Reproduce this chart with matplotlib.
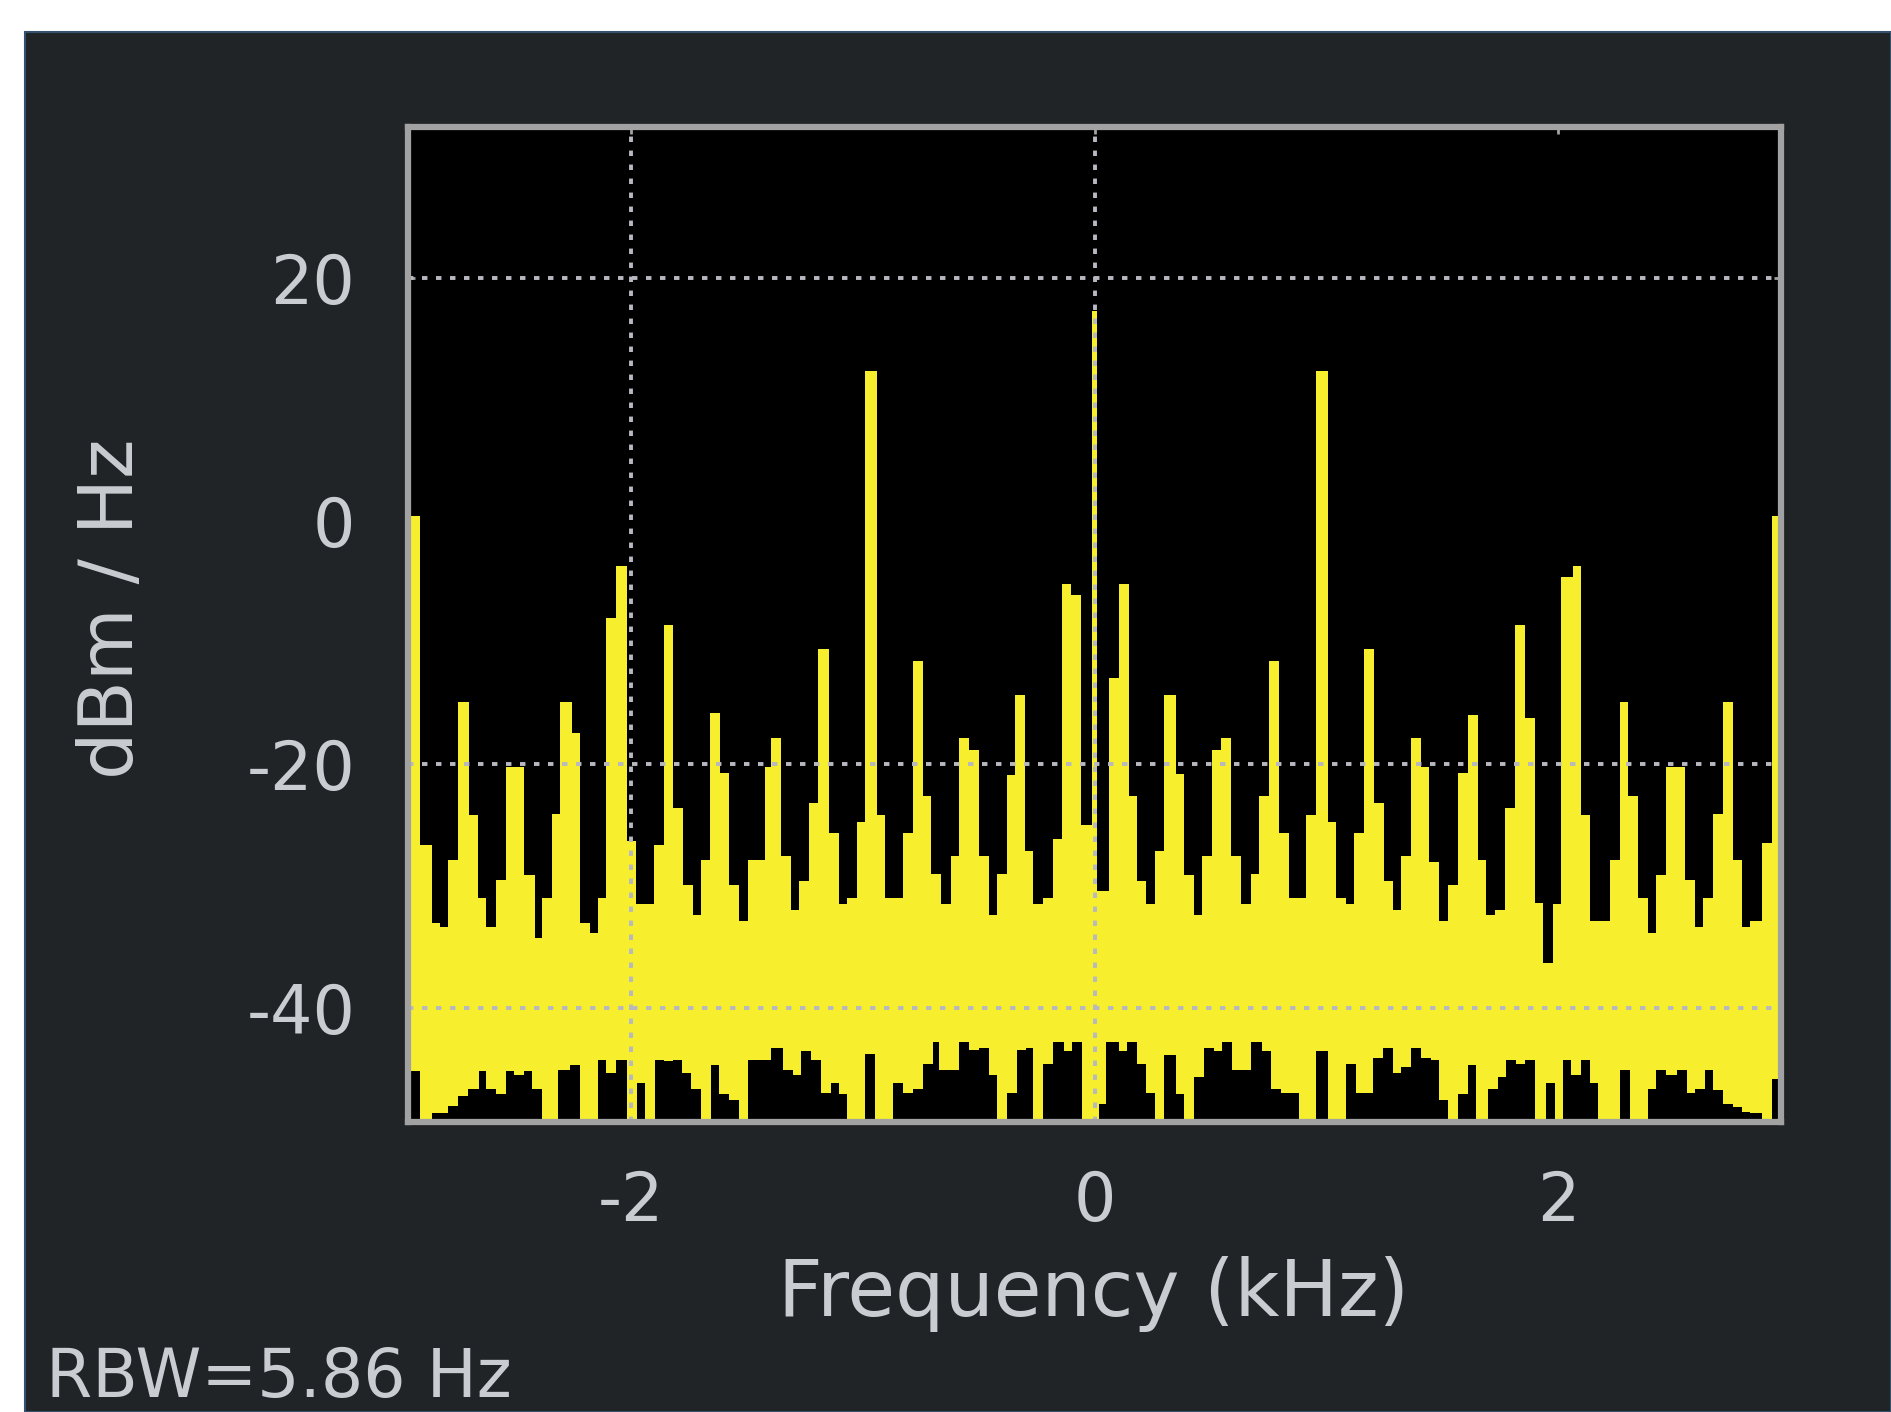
import matplotlib.pyplot as plt
from matplotlib.patches import Rectangle

# spectrum trace, as steps:
# each level holds from its start frequency to the next start (kHz, dBm/Hz)
trace_start_khz = [
    -2.960, -2.908, -2.858, -2.823, -2.787, -2.745, -2.695, -2.660, -2.624, -2.582,
    -2.539, -2.461, -2.411, -2.383, -2.340, -2.305, -2.255, -2.220, -2.177, -2.142,
    -2.106, -2.064, -2.014, -1.979, -1.901, -1.858, -1.818, -1.773, -1.730, -1.695,
    -1.660, -1.614, -1.574, -1.532, -1.496, -1.421, -1.393, -1.350, -1.308, -1.272,
    -1.230, -1.194, -1.145, -1.102, -1.067, -1.024, -0.989, -0.939, -0.904, -0.826,
    -0.783, -0.740, -0.705, -0.662, -0.620, -0.584, -0.542, -0.499, -0.457, -0.421,
    -0.379, -0.343, -0.301, -0.265, -0.223, -0.180, -0.138, -0.102, -0.060, -0.012,
    0.012, 0.062, 0.105, 0.148, 0.184, 0.220, 0.263, 0.299, 0.350, 0.386,
    0.428, 0.465, 0.508, 0.544, 0.587, 0.630, 0.674, 0.710, 0.753, 0.796,
    0.839, 0.911, 0.955, 1.005, 1.041, 1.084, 1.120, 1.163, 1.206, 1.250,
    1.285, 1.322, 1.365, 1.408, 1.444, 1.487, 1.523, 1.566, 1.610, 1.653,
    1.688, 1.725, 1.768, 1.811, 1.855, 1.898, 1.934, 1.977, 2.013, 2.063,
    2.099, 2.135, 2.222, 2.265, 2.301, 2.344, 2.387, 2.423, 2.466, 2.546,
    2.589, 2.625, 2.668, 2.711, 2.754, 2.790, 2.826, 2.877, 2.920,
]
trace_db = [
    0.4, -26.6, -33.0, -33.4, -27.9, -14.9, -24.2, -31.0, -33.4, -29.5,
    -20.2, -29.1, -34.3, -31.0, -24.1, -14.9, -17.4, -33.0, -33.9, -31.0,
    -8.0, -3.7, -26.3, -31.5, -26.6, -8.5, -23.6, -29.9, -32.4, -27.9,
    -15.8, -20.7, -29.9, -32.9, -27.9, -20.2, -17.8, -27.5, -32.0, -29.6,
    -23.2, -10.5, -25.6, -31.5, -31.0, -24.7, 12.3, -24.2, -31.0, -25.6,
    -11.5, -22.6, -29.0, -31.5, -27.5, -17.8, -18.8, -27.5, -32.4, -29.0,
    -20.9, -14.3, -27.1, -31.5, -31.0, -26.1, -5.2, -6.1, -25.0, 17.3,
    -30.4, -12.9, -5.2, -22.6, -29.6, -31.5, -27.1, -14.3, -20.8, -29.1,
    -32.4, -27.5, -18.8, -17.8, -27.5, -31.5, -29.0, -22.6, -11.5, -25.6,
    -31.0, -24.2, 12.3, -24.7, -31.0, -31.5, -25.6, -10.5, -23.2, -29.6,
    -32.0, -27.5, -17.8, -20.2, -28.0, -32.9, -29.9, -20.7, -15.9, -27.9,
    -32.4, -32.0, -23.6, -8.5, -16.2, -31.4, -36.3, -31.5, -4.6, -3.7,
    -24.2, -32.9, -27.9, -14.9, -22.6, -31.0, -33.9, -29.1, -20.2, -29.5,
    -33.4, -31.0, -24.1, -14.9, -27.9, -33.4, -32.9, -26.5, 0.4,
]

# lower edge of the noise band (the dark gaps near the bottom); -50 = trace reaches floor
floor_start_khz = [
    -2.960, -2.908, -2.858, -2.787, -2.745, -2.702, -2.652, -2.624, -2.582, -2.539,
    -2.504, -2.461, -2.426, -2.383, -2.312, -2.262, -2.220, -2.142, -2.106, -2.064,
    -2.014, -1.972, -1.936, -1.894, -1.858, -1.816, -1.780, -1.738, -1.695, -1.652,
    -1.617, -1.574, -1.532, -1.496, -1.393, -1.343, -1.301, -1.265, -1.223, -1.180,
    -1.138, -1.102, -1.067, -0.989, -0.946, -0.868, -0.826, -0.783, -0.740, -0.698,
    -0.670, -0.584, -0.542, -0.499, -0.457, -0.421, -0.379, -0.336, -0.294, -0.265,
    -0.223, -0.180, -0.130, -0.095, -0.052, 0.019, 0.048, 0.105, 0.141, 0.184,
    0.220, 0.263, 0.299, 0.350, 0.386, 0.428, 0.472, 0.515, 0.551, 0.594,
    0.674, 0.724, 0.760, 0.803, 0.882, 0.955, 1.005, 1.084, 1.127, 1.199,
    1.242, 1.285, 1.322, 1.365, 1.408, 1.451, 1.487, 1.523, 1.566, 1.610,
    1.646, 1.696, 1.739, 1.775, 1.818, 1.855, 1.898, 1.948, 1.984, 2.020,
    2.056, 2.099, 2.135, 2.171, 2.265, 2.308, 2.387, 2.423, 2.466, 2.510,
    2.553, 2.589, 2.632, 2.668, 2.711, 2.754, 2.790, 2.826, 2.877, 2.920,
]
floor_db = [
    -45.2, -50.0, -48.7, -48.1, -47.3, -46.7, -45.2, -46.7, -47.1, -45.2,
    -45.5, -45.2, -46.7, -50.0, -45.1, -44.7, -50.0, -44.3, -45.4, -44.3,
    -50.0, -46.2, -50.0, -44.3, -44.4, -44.3, -45.4, -46.7, -50.0, -44.7,
    -47.1, -47.6, -50.0, -44.3, -43.3, -45.1, -45.5, -43.6, -44.3, -47.0,
    -46.2, -47.1, -50.0, -43.8, -50.0, -46.2, -47.0, -46.7, -44.6, -42.8,
    -45.1, -42.8, -43.5, -43.3, -45.5, -50.0, -47.0, -43.5, -43.3, -50.0,
    -44.6, -42.8, -43.6, -42.8, -50.0, -47.9, -42.8, -43.6, -42.8, -44.6,
    -47.0, -50.0, -43.9, -47.1, -50.0, -45.7, -43.3, -43.6, -42.8, -45.1,
    -42.8, -43.6, -46.7, -47.0, -50.0, -43.6, -50.0, -44.6, -47.0, -44.1,
    -43.3, -45.4, -44.9, -43.3, -44.1, -44.3, -47.6, -50.0, -47.1, -44.7,
    -50.0, -46.7, -45.7, -44.3, -44.6, -44.3, -50.0, -46.2, -50.0, -44.3,
    -45.5, -44.3, -46.2, -50.0, -45.1, -50.0, -46.7, -45.1, -45.5, -45.1,
    -47.0, -46.7, -45.1, -46.8, -47.9, -48.2, -48.6, -48.7, -50.0, -45.9,
]
span_end_khz = 2.96

x_ticks = [-2, 0, 2]
y_ticks = [-40, -20, 0, 20]
grid_y = [20, -20, -40]   # only these rules show on the screen
grid_x = [-2, 0]

assert len(trace_start_khz) == len(trace_db)
assert len(floor_start_khz) == len(floor_db)

W, H = 1891, 1412
yellow = '#f7ef2e'
label_col = '#c9cdd1'
frame_col = '#a2a2a2'

fig = plt.figure(figsize=(W / 100, H / 100), dpi=100, facecolor='white')
# dark window panel, small white margin on top / left
fig.patches.append(Rectangle((25 / W, 0), 1 - 25 / W, 1 - 32 / H, transform=fig.transFigure,
                             facecolor='#202427', edgecolor='#34526f', lw=1.5, zorder=-5))

ax = fig.add_axes([408 / W, 1 - 1122 / H, (1781 - 408) / W, (1122 - 127) / H])
ax.set_zorder(2)
ax.set_facecolor('black')

bottom = -50
ax.fill_between(trace_start_khz + [span_end_khz], bottom, trace_db + [trace_db[-1]],
                step='post', color=yellow, lw=0, zorder=2)
ax.fill_between(floor_start_khz + [span_end_khz], bottom, floor_db + [floor_db[-1]],
                step='post', color='black', lw=0, zorder=3)

dots = (0, (1.4, 2.2))
for g in grid_y:
    ax.axhline(g, color='#b8b8c0', ls=dots, lw=2.8, zorder=5)
for g in grid_x:
    ax.axvline(g, color='#b8b8c0', ls=dots, lw=2.8, zorder=5)

ax.set_xlim(-span_end_khz, span_end_khz)
ax.set_ylim(-49.4, 32.4)
ax.set_xticks(x_ticks)
ax.set_yticks(y_ticks)
ax.set_xticklabels([str(t) for t in x_ticks])
ax.set_yticklabels([str(t) for t in y_ticks])
ax.tick_params(direction='in', length=5, width=2, color=frame_col, labelcolor=label_col,
               labelsize=48, top=True, right=True)
ax.tick_params(axis='x', pad=34)
ax.tick_params(axis='y', pad=38)
for s in ax.spines.values():
    s.set_color(frame_col)
    s.set_linewidth(4.5)
    s.set_zorder(6)

fig.text(1094 / W, 1 - 1294 / H, 'Frequency (kHz)', ha='center', va='center',
         fontsize=56, color=label_col)
fig.text(112 / W, 1 - 609 / H, 'dBm / Hz', ha='center', va='center', rotation=90,
         fontsize=54, color=label_col)
fig.text(46 / W, 1 - 1411 / H, 'RBW=5.86 Hz', ha='left', va='bottom',
         fontsize=48, color=label_col)

fig.savefig('out.png', dpi=100, facecolor=fig.get_facecolor())
